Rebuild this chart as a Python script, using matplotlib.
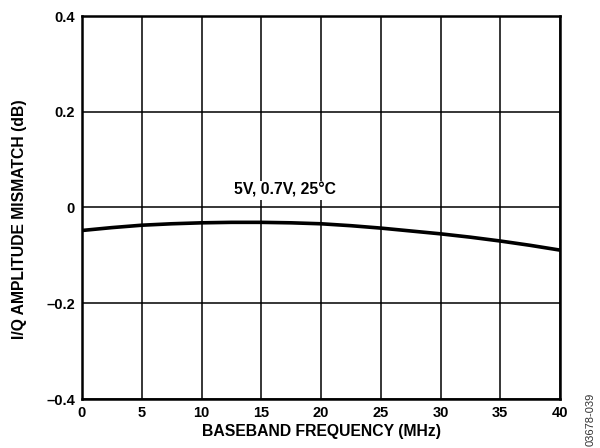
import numpy as np
import matplotlib.pyplot as plt

plt.rcParams['font.family'] = ['Liberation Sans', 'DejaVu Sans']
plt.rcParams['font.weight'] = 'bold'

freq = [0, 2.5, 5, 7.5, 10, 12.5, 15, 17.5, 20, 22.5, 25, 27.5, 30, 32.5, 35, 37.5, 40]
mismatch = [-0.048, -0.042, -0.037, -0.034, -0.032, -0.031, -0.031, -0.032, -0.034,
            -0.038, -0.043, -0.049, -0.055, -0.062, -0.070, -0.079, -0.089]

xticks = [0, 5, 10, 15, 20, 25, 30, 35, 40]
yticks = [-0.4, -0.2, 0, 0.2, 0.4]
ytick_labels = ['\u20130.4', '\u20130.2', '0', '0.2', '0.4']

fig = plt.figure(figsize=(6, 4.48), dpi=100)
ax = fig.add_axes([82 / 600, 1 - 399 / 448, 478 / 600, 383 / 448])

ax.plot(freq, mismatch, color='black', lw=2.6, zorder=3)

ax.set_xlim(0, 40)
ax.set_ylim(-0.4, 0.4)
ax.set_xticks(xticks)
ax.set_yticks(yticks)
ax.set_yticklabels(ytick_labels)
ax.tick_params(length=0, labelsize=10.5, pad=5)
ax.grid(True, color='black', lw=1.1)
for s in ax.spines.values():
    s.set_linewidth(1.8)

ax.set_xlabel('BASEBAND FREQUENCY (MHz)', fontsize=11.3, fontweight='bold', labelpad=3)
ax.set_ylabel('I/Q AMPLITUDE MISMATCH (dB)', fontsize=11.3, fontweight='bold')
ax.yaxis.set_label_coords(-0.115, 0.47)

ax.text(17, 0.036, '5V, 0.7V, 25\u00b0C', fontsize=11.3, fontweight='bold', ha='center', va='center',
        bbox=dict(facecolor='white', edgecolor='none', pad=1.5), zorder=4)

fig.text(0.984, 0.065, '03678-039', rotation=90, fontsize=8, fontweight='normal',
         color='#333333', ha='center', va='center')

fig.savefig('out.png', dpi=100)
